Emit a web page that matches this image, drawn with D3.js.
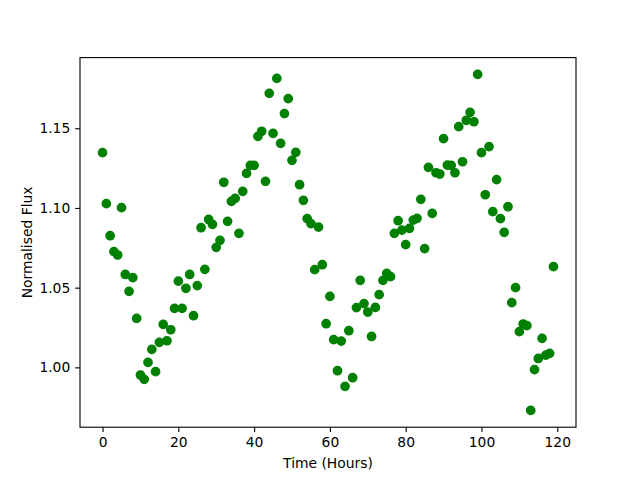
<!DOCTYPE html>
<html>
<head>
<meta charset="utf-8">
<script src="https://cdn.jsdelivr.net/npm/d3@7"></script>
<style>
  body { margin: 0; background: #fff; }
  svg text { font-family: "DejaVu Sans", sans-serif; }
</style>
</head>
<body>
<div id="chart"></div>
<script>
// time in hours, one reading per hour
var hours = d3.range(0, 120);

// normalised flux
var flux = [
  1.1347, 1.1027, 1.0826, 1.0726, 1.0705, 1.1002, 1.0583, 1.0477, 1.0563, 1.0307,
  0.9952, 0.9925, 1.0031, 1.0113, 0.9973, 1.0157, 1.0270, 1.0167, 1.0236, 1.0370,
  1.0541, 1.0370, 1.0496, 1.0583, 1.0324, 1.0513, 1.0876, 1.0615, 1.0928, 1.0897,
  1.0753, 1.0797, 1.1161, 1.0916, 1.1041, 1.1060, 1.0841, 1.1104, 1.1217, 1.1267,
  1.1267, 1.1449, 1.1481, 1.1167, 1.1719, 1.1468, 1.1813, 1.1405, 1.1592, 1.1686,
  1.1299, 1.1349, 1.1146, 1.1048, 1.0933, 1.0902, 1.0613, 1.0880, 1.0644, 1.0274,
  1.0445, 1.0174, 0.9979, 1.0165, 0.9881, 1.0230, 0.9935, 1.0375, 1.0546, 1.0400,
  1.0347, 1.0194, 1.0376, 1.0456, 1.0546, 1.0590, 1.0569, 1.0841, 1.0920, 1.0861,
  1.0770, 1.0872, 1.0924, 1.0935, 1.1054, 1.0745, 1.1255, 1.0966, 1.1221, 1.1213,
  1.1435, 1.1269, 1.1267, 1.1221, 1.1510, 1.1290, 1.1550, 1.1600, 1.1541, 1.1838,
  1.1347, 1.1083, 1.1385, 1.0977, 1.1178, 1.0933, 1.0847, 1.1008, 1.0406, 1.0500,
  1.0224, 1.0272, 1.0262, 0.9730, 0.9986, 1.0056, 1.0182, 1.0077, 1.0088, 1.0632
];

var xTicks = [0, 20, 40, 60, 80, 100, 120];
var yTicks = [1.00, 1.05, 1.10, 1.15];

var width = 640, height = 480;
var margin = {top: 57.6, right: 64, bottom: 52.8, left: 80};
var w = width - margin.left - margin.right;
var h = height - margin.top - margin.bottom;
var pt = 100 / 72;

// matplotlib style 5% padding on the data limits
function padded(vals) {
  var lo = d3.min(vals), hi = d3.max(vals), m = (hi - lo) * 0.05;
  return [lo - m, hi + m];
}

var x = d3.scaleLinear().domain(padded(hours)).range([0, w]);
var y = d3.scaleLinear().domain(padded(flux)).range([h, 0]);

var svg = d3.select('#chart').append('svg')
  .attr('width', width)
  .attr('height', height);

var g = svg.append('g')
  .attr('transform', 'translate(' + margin.left + ',' + margin.top + ')');

g.selectAll('circle')
  .data(hours)
  .enter().append('circle')
  .attr('cx', function (d) { return x(d); })
  .attr('cy', function (d, i) { return y(flux[i]); })
  .attr('r', 3 * pt)
  .attr('fill', '#008000')
  .attr('stroke', '#008000')
  .attr('stroke-width', 1 * pt);

var xAxis = g.append('g')
  .attr('transform', 'translate(0,' + h + ')')
  .call(d3.axisBottom(x).tickValues(xTicks).tickFormat(d3.format('d'))
    .tickSize(3.5 * pt).tickPadding(3.5 * pt).tickSizeOuter(0));

var yAxis = g.append('g')
  .call(d3.axisLeft(y).tickValues(yTicks).tickFormat(d3.format('.2f'))
    .tickSize(3.5 * pt).tickPadding(3.5 * pt).tickSizeOuter(0));

[xAxis, yAxis].forEach(function (a) {
  a.select('.domain').remove();
  a.selectAll('.tick line').attr('stroke', '#000').attr('stroke-width', 0.8 * pt);
  a.selectAll('.tick text')
    .attr('fill', '#000')
    .attr('font-size', 10 * pt)
    .attr('font-family', '"DejaVu Sans", sans-serif');
});

// spines
g.append('rect')
  .attr('width', w)
  .attr('height', h)
  .attr('fill', 'none')
  .attr('stroke', '#000')
  .attr('stroke-width', 0.8 * pt);

g.append('text')
  .attr('x', w / 2)
  .attr('y', h + 40.5)
  .attr('text-anchor', 'middle')
  .attr('font-size', 10 * pt)
  .attr('fill', '#000')
  .text('Time (Hours)');

g.append('text')
  .attr('transform', 'rotate(-90)')
  .attr('x', -h / 2)
  .attr('y', -48)
  .attr('text-anchor', 'middle')
  .attr('font-size', 10 * pt)
  .attr('fill', '#000')
  .text('Normalised Flux');
</script>
</body>
</html>
